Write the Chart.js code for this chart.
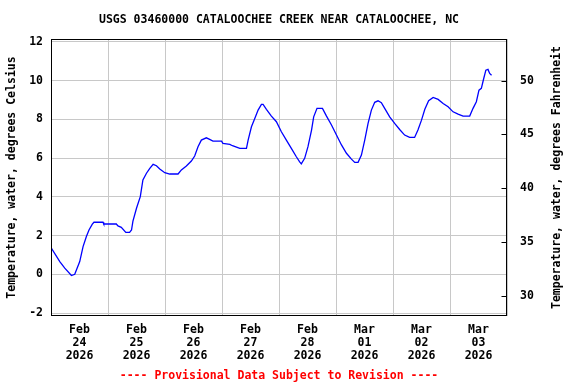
<!DOCTYPE html>
<html><head><meta charset="utf-8">
<script src="https://cdn.jsdelivr.net/npm/chart.js@4"></script>
<style>html,body{margin:0;padding:0;background:#fff}canvas{display:block}</style>
</head><body>
<canvas id="c" width="576" height="384"></canvas>
<script>
// Hours since Feb 24 2026 00:00
const hoursSinceFeb24 = [0.0,3.7,5.8,8.6,10.0,12.1,13.5,14.9,16.0,17.4,18.1,21.9,22.2,27.5,28.2,29.6,31.5,33.1,33.9,34.5,36.0,37.6,38.7,40.2,41.6,43.0,44.4,45.8,47.9,50.0,53.5,54.9,57.0,59.1,60.5,61.9,63.3,65.4,66.8,68.2,71.8,72.4,75.3,76.4,79.5,82.3,83.0,84.4,85.8,87.2,88.6,89.3,90.7,92.8,94.9,97.0,99.1,101.2,103.3,104.7,105.4,106.8,108.2,109.7,110.6,112.0,114.3,116.0,118.1,120.2,122.3,124.4,126.5,127.9,129.3,130.7,132.1,133.5,134.9,136.3,137.7,139.1,140.5,142.6,144.7,146.8,148.9,151.0,153.1,154.5,156.0,157.4,159.0,160.9,163.0,165.1,167.2,169.3,171.4,173.5,176.3,177.7,179.1,180.2,181.2,182.2,183.1,184.0,184.7,185.5];
const tempCelsius = [1.38,0.66,0.32,-0.06,0.0,0.66,1.43,1.95,2.29,2.59,2.69,2.69,2.60,2.60,2.50,2.43,2.17,2.17,2.29,2.75,3.41,4.01,4.87,5.22,5.47,5.68,5.61,5.44,5.25,5.18,5.18,5.39,5.59,5.85,6.11,6.59,6.93,7.05,6.97,6.88,6.88,6.76,6.71,6.64,6.50,6.50,6.93,7.62,8.05,8.48,8.77,8.77,8.52,8.17,7.88,7.36,6.93,6.50,6.07,5.81,5.70,5.99,6.59,7.45,8.13,8.57,8.57,8.17,7.71,7.19,6.68,6.25,5.95,5.78,5.78,6.16,6.93,7.79,8.48,8.88,8.96,8.86,8.57,8.13,7.79,7.48,7.19,7.07,7.07,7.45,7.96,8.52,8.96,9.13,9.03,8.82,8.65,8.39,8.27,8.17,8.17,8.57,8.91,9.51,9.60,10.11,10.54,10.58,10.37,10.28];
const dayMonths = ['Feb','Feb','Feb','Feb','Feb','Mar','Mar','Mar'];
const dayNumbers = ['24','25','26','27','28','01','02','03'];
const dayYears = ['2026','2026','2026','2026','2026','2026','2026','2026'];
const celsiusTicks = [-2,0,2,4,6,8,10,12];
const fahrenheitTicks = [30,35,40,45,50];
const titleText = 'USGS 03460000 CATALOOCHEE CREEK NEAR CATALOOCHEE, NC';
const footerText = '---- Provisional Data Subject to Revision ----';
const leftAxisTitle = 'Temperature, water, degrees Celsius';
const rightAxisTitle = 'Temperature, water, degrees Fahrenheit';
const yMinC = -2.15, yMaxC = 12.15;
const xMaxHours = 192;

const FAM = "'DejaVu Sans Mono', monospace";
const FONT = "bold 11.5px " + FAM;
Chart.defaults.font.family = FAM;
Chart.defaults.font.size = 11.5;
Chart.defaults.font.weight = 'bold';
Chart.defaults.color = '#000';

const decor = {
  id: 'decor',
  afterDraw(chart) {
    const ctx = chart.ctx, a = chart.chartArea;
    ctx.save();
    const l = Math.round(a.left) + 0.5, t = Math.round(a.top) + 0.5;
    const r = Math.round(a.right) - 0.5, b = Math.round(a.bottom) - 0.5;
    ctx.strokeStyle = '#000'; ctx.lineWidth = 1;
    ctx.strokeRect(l, t, r - l, b - t);
    const yF = chart.scales.yF;
    ctx.beginPath();
    yF.ticks.forEach(tk => {
      const y = Math.round(yF.getPixelForValue(tk.value)) + 0.5;
      ctx.moveTo(r - 5, y); ctx.lineTo(r, y);
    });
    ctx.stroke();
    ctx.font = FONT; ctx.fillStyle = '#000';
    ctx.textAlign = 'center'; ctx.textBaseline = 'middle';
    const cx = (a.left + a.right) / 2, cy = (a.top + a.bottom) / 2;
    ctx.fillText(titleText, cx, 20);
    ctx.fillStyle = '#ff0000';
    ctx.fillText(footerText, cx, 376);
    ctx.fillStyle = '#000';
    ctx.save(); ctx.translate(12, cy); ctx.rotate(-Math.PI / 2); ctx.fillText(leftAxisTitle, 0, 0); ctx.restore();
    ctx.save(); ctx.translate(557, cy); ctx.rotate(-Math.PI / 2); ctx.fillText(rightAxisTitle, 0, 0); ctx.restore();
    ctx.restore();
  }
};

new Chart(document.getElementById('c'), {
  type: 'line',
  data: { datasets: [{
    data: hoursSinceFeb24.map((h, i) => ({ x: h, y: tempCelsius[i] })),
    borderColor: '#0000ff', borderWidth: 1.3, pointRadius: 0, tension: 0, fill: false,
    xAxisID: 'x', yAxisID: 'y'
  }]},
  options: {
    responsive: false, animation: false, devicePixelRatio: 1,
    layout: { padding: { top: 39, left: 0, right: 0, bottom: 0 } },
    plugins: { legend: { display: false }, tooltip: { enabled: false }, title: { display: false } },
    scales: {
      x: {
        type: 'linear', position: 'bottom', min: 0, max: xMaxHours,
        afterFit(s) { s.height = 68; },
        afterBuildTicks(s) { const t = []; for (let h = 0; h <= xMaxHours; h += 12) t.push({ value: h }); s.ticks = t; },
        grid: { color: c => (c.tick && c.tick.value % 24 === 0) ? '#c8c8c8' : 'rgba(0,0,0,0)', drawTicks: false, lineWidth: 1 },
        border: { display: false },
        ticks: { autoSkip: false, maxRotation: 0, minRotation: 0, padding: 7, font: { lineHeight: 1.15 },
          callback(v) { if (v % 24 === 12) { const i = (v - 12) / 24; return [dayMonths[i], dayNumbers[i], dayYears[i]]; } return ''; } }
      },
      y: {
        position: 'left', min: yMinC, max: yMaxC,
        afterFit(s) { s.width = 51; },
        afterBuildTicks(s) { s.ticks = celsiusTicks.map(v => ({ value: v })); },
        grid: { color: '#c8c8c8', drawTicks: false, lineWidth: 1 },
        border: { display: false },
        ticks: { padding: 8 }
      },
      yF: {
        position: 'right', min: yMinC * 1.8 + 32, max: yMaxC * 1.8 + 32,
        afterFit(s) { s.width = 69; },
        afterBuildTicks(s) { s.ticks = fahrenheitTicks.map(v => ({ value: v })); },
        grid: { drawOnChartArea: false, drawTicks: false },
        border: { display: false },
        ticks: { padding: 13 }
      }
    }
  },
  plugins: [decor]
});
</script>
</body></html>
